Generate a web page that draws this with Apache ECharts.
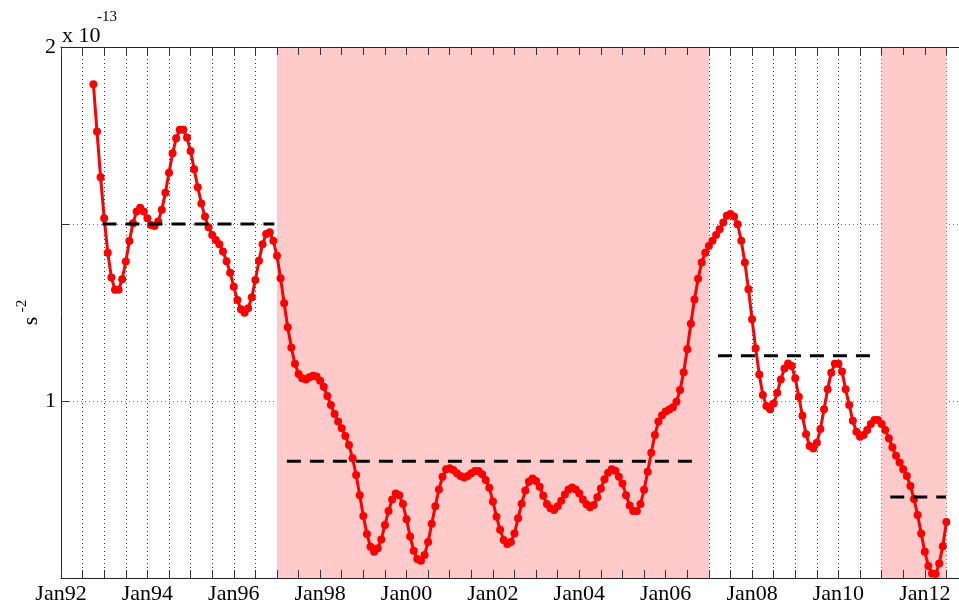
<!DOCTYPE html>
<html>
<head>
<meta charset="utf-8">
<script src="https://cdn.jsdelivr.net/npm/echarts@6/dist/echarts.min.js"></script>
<style>
  html, body { margin: 0; padding: 0; background: #fff; }
  #main { width: 959px; height: 606px; }
</style>
</head>
<body>
<div id="main"></div>
<script>
// monthly values (x 1e-13 s^-2), first month Oct 1992
const startYear = 1992;
const startMonth = 10;
const values = [
  1.895, 1.761, 1.632, 1.516, 1.419, 1.349, 1.314, 1.314, 1.344, 1.394,
  1.452, 1.502, 1.535, 1.546, 1.535, 1.516, 1.497, 1.494, 1.507, 1.540,
  1.588, 1.645, 1.700, 1.742, 1.766, 1.766, 1.744, 1.706, 1.655, 1.604,
  1.558, 1.521, 1.491, 1.469, 1.455, 1.443, 1.422, 1.395, 1.362, 1.323,
  1.285, 1.259, 1.249, 1.262, 1.293, 1.342, 1.396, 1.443, 1.472, 1.477,
  1.453, 1.410, 1.347, 1.276, 1.208, 1.151, 1.105, 1.076, 1.064, 1.061,
  1.067, 1.071, 1.069, 1.057, 1.040, 1.014, 0.989, 0.963, 0.942, 0.923,
  0.901, 0.876, 0.838, 0.791, 0.734, 0.675, 0.624, 0.588, 0.574, 0.584,
  0.609, 0.650, 0.689, 0.722, 0.739, 0.734, 0.709, 0.666, 0.617, 0.577,
  0.554, 0.549, 0.565, 0.602, 0.653, 0.703, 0.750, 0.786, 0.807, 0.810,
  0.805, 0.796, 0.788, 0.784, 0.788, 0.796, 0.802, 0.802, 0.793, 0.777,
  0.755, 0.716, 0.673, 0.636, 0.607, 0.596, 0.602, 0.626, 0.669, 0.710,
  0.747, 0.772, 0.781, 0.774, 0.758, 0.732, 0.709, 0.697, 0.692, 0.703,
  0.718, 0.736, 0.750, 0.756, 0.750, 0.739, 0.722, 0.708, 0.700, 0.706,
  0.728, 0.753, 0.779, 0.797, 0.807, 0.803, 0.786, 0.767, 0.734, 0.705,
  0.689, 0.689, 0.709, 0.749, 0.800, 0.854, 0.904, 0.942, 0.960, 0.970,
  0.976, 0.982, 0.998, 1.031, 1.081, 1.146, 1.218, 1.287, 1.345, 1.391,
  1.419, 1.438, 1.453, 1.469, 1.485, 1.504, 1.523, 1.528, 1.521, 1.499,
  1.453, 1.391, 1.316, 1.231, 1.149, 1.075, 1.017, 0.986, 0.977, 0.993,
  1.023, 1.061, 1.092, 1.106, 1.099, 1.064, 1.012, 0.958, 0.906, 0.873,
  0.866, 0.882, 0.921, 0.977, 1.033, 1.080, 1.105, 1.105, 1.083, 1.033,
  0.989, 0.944, 0.913, 0.899, 0.904, 0.918, 0.935, 0.946, 0.946, 0.935,
  0.918, 0.895, 0.869, 0.845, 0.826, 0.807, 0.788, 0.760, 0.723, 0.678,
  0.626, 0.574, 0.534, 0.513, 0.511, 0.541, 0.590, 0.658
];

// period means (dashed lines), in decimal years
const meanStart = [1992.96, 1997.23, 2007.21, 2011.2];
const meanEnd = [1996.94, 2006.81, 2010.8, 2012.49];
const meanLevel = [1.5, 0.83, 1.128, 0.729];

// shaded periods
const shadeStart = [1997.0, 2011.0];
const shadeEnd = [2007.0, 2012.5];

const serif = '"Liberation Serif", "DejaVu Serif", serif';

const points = values.map((v, i) => [startYear + (startMonth - 1 + i) / 12, v]);

const meanSeries = meanLevel.map((lvl, k) => ({
  type: 'line',
  z: 3,
  symbol: 'none',
  silent: true,
  data: [[meanStart[k], lvl], [meanEnd[k], lvl]],
  lineStyle: { color: '#000', width: 3, type: [14, 9] }
}));

const chart = echarts.init(document.getElementById('main'));

chart.setOption({
  animation: false,
  backgroundColor: '#fff',
  grid: { left: 61, top: 47, width: 907, height: 531, outerBoundsMode: 'none' },
  xAxis: [
    {
      type: 'value',
      min: 1992,
      max: 2013,
      interval: 0.5,
      z: 1,
      axisLine: { show: true, onZero: false, lineStyle: { color: '#222', width: 1 } },
      axisTick: { show: true, inside: true, length: 8, lineStyle: { color: '#333' } },
      axisLabel: {
        fontFamily: serif,
        fontSize: 22,
        color: '#000',
        margin: 5,
        formatter: (v) => (Number.isInteger(v) && v % 2 === 0) ? 'Jan' + String(v).slice(2) : ''
      },
      splitLine: { show: true, lineStyle: { color: '#333', width: 1, type: [1, 3] } }
    },
    {
      type: 'value',
      position: 'top',
      min: 1992,
      max: 2013,
      interval: 0.5,
      z: 1,
      axisLine: { show: true, onZero: false, lineStyle: { color: '#222', width: 1 } },
      axisTick: { show: true, inside: true, length: 8, lineStyle: { color: '#333' } },
      axisLabel: { show: false },
      splitLine: { show: false }
    }
  ],
  yAxis: {
    type: 'value',
    min: 0.5,
    max: 2,
    interval: 0.5,
    z: 1,
    axisLine: { show: true, onZero: false, lineStyle: { color: '#222', width: 1 } },
    axisTick: { show: true, inside: true, length: 8, lineStyle: { color: '#333' } },
    axisLabel: {
      fontFamily: serif,
      fontSize: 22,
      color: '#000',
      margin: 5,
      formatter: (v) => (v === 1 || v === 2) ? String(v) : ''
    },
    splitLine: { show: true, lineStyle: { color: '#777', width: 1, type: [1, 3] } }
  },
  graphic: [
    { type: 'text', x: 62, y: 36, style: { text: 'x 10', font: '22px ' + serif, fill: '#000', verticalAlign: 'middle' } },
    { type: 'text', x: 97, y: 17.5, style: { text: '-13', font: '15px ' + serif, fill: '#000', verticalAlign: 'middle' } },
    { type: 'text', x: 31, y: 321, rotation: Math.PI / 2, style: { text: 's', font: '22px ' + serif, fill: '#000', align: 'center', verticalAlign: 'middle' } },
    { type: 'text', x: 22, y: 306, rotation: Math.PI / 2, style: { text: '-2', font: '15px ' + serif, fill: '#000', align: 'center', verticalAlign: 'middle' } }
  ],
  series: [
    {
      type: 'line',
      z: 0,
      silent: true,
      data: [],
      markArea: {
        silent: true,
        itemStyle: { color: '#ffcaca' },
        data: shadeStart.map((s, k) => [{ xAxis: s }, { xAxis: shadeEnd[k] }])
      }
    },
    {
      type: 'line',
      z: 2,
      data: points,
      symbol: 'circle',
      symbolSize: 8,
      showSymbol: true,
      itemStyle: { color: '#ff0000' },
      lineStyle: { color: '#ff0000', width: 3 }
    },
    ...meanSeries
  ]
});
</script>
</body>
</html>
